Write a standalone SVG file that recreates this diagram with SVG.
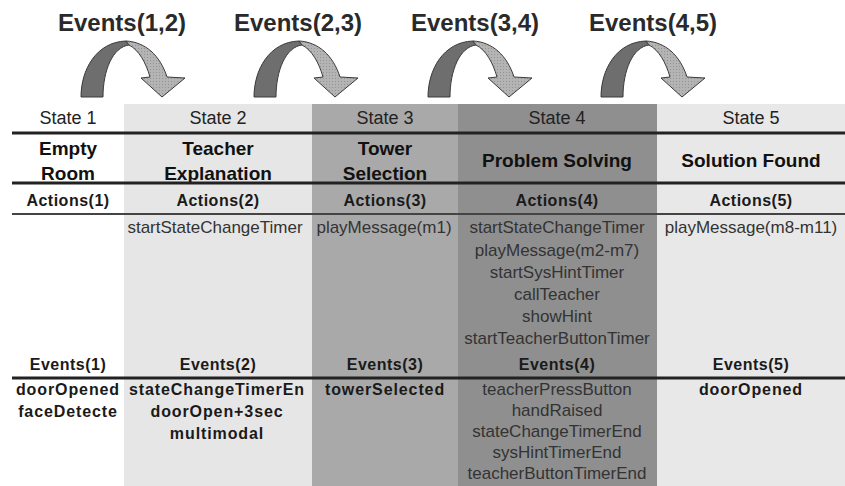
<svg xmlns="http://www.w3.org/2000/svg" width="845" height="486" viewBox="0 0 845 486">
<style>
.st{font-family:"Liberation Sans",Arial,sans-serif;font-size:18px;fill:#222;text-anchor:middle}
.ti{font-family:"Liberation Sans",Arial,sans-serif;font-size:19px;font-weight:bold;fill:#111;text-anchor:middle}
.hd{font-family:"Liberation Sans",Arial,sans-serif;font-size:16px;font-weight:bold;fill:#1a1a1a;text-anchor:middle;letter-spacing:0.5px}
.it{font-family:"Liberation Sans",Arial,sans-serif;font-size:17px;fill:#333;text-anchor:middle}
.ev{font-family:"Liberation Sans",Arial,sans-serif;font-size:16px;font-weight:bold;fill:#1a1a1a;text-anchor:middle;letter-spacing:0.9px}
.tr{font-family:"Liberation Sans",Arial,sans-serif;font-size:24px;font-weight:bold;fill:#2a2a2a;text-anchor:middle}
.ln{stroke:#222;stroke-width:3}
.ln2{stroke:#444;stroke-width:2}
.dk{fill:#6e6e6e;stroke:#3a3a3a;stroke-width:1}
.lt{fill:url(#dots);stroke:#3a3a3a;stroke-width:1}
</style>
<defs>
<pattern id="dots" width="3" height="3" patternUnits="userSpaceOnUse">
<rect width="3" height="3" fill="#b4b4b4"/>
<rect x="0" y="0" width="1" height="1" fill="#939393"/>
</pattern>
<g id="arc">
<path class="dk" d="M81,97 C81,70 96,42 126,41 L129,45 C113,47 103,70 103,97 Z"/>
<path class="lt" d="M126,41 C145,42 160,55 167,77 L185,78 L162,97 L141,78 L150,77 C146,63 139,50 129,45 Z"/>
</g>
</defs>
<rect width="845" height="486" fill="#fff"/>

<g id="state1">
<text class="st" x="68" y="124">State 1</text>
<text class="ti" x="68" y="155">Empty</text>
<text class="ti" x="68" y="180">Room</text>
<text class="hd" x="68" y="206">Actions(1)</text>
<text class="hd" x="68" y="370">Events(1)</text>
<text class="ev" x="68" y="395">doorOpened</text>
<text class="ev" x="68" y="417">faceDetecte</text>
</g>

<g id="state2">
<rect x="124" y="104" width="188" height="382" fill="#e6e6e6"/>
<text class="st" x="218" y="124">State 2</text>
<text class="ti" x="218" y="155">Teacher</text>
<text class="ti" x="218" y="180">Explanation</text>
<text class="hd" x="218" y="206">Actions(2)</text>
<text class="it" x="215" y="233">startStateChangeTimer</text>
<text class="hd" x="218" y="370">Events(2)</text>
<text class="ev" x="217" y="395">stateChangeTimerEn</text>
<text class="ev" x="217" y="417">doorOpen+3sec</text>
<text class="ev" x="217" y="439">multimodal</text>
</g>

<g id="state3">
<rect x="312" y="104" width="146" height="382" fill="#a9a9a9"/>
<text class="st" x="385" y="124">State 3</text>
<text class="ti" x="385" y="155">Tower</text>
<text class="ti" x="385" y="180">Selection</text>
<text class="hd" x="385" y="206">Actions(3)</text>
<text class="it" x="384" y="233">playMessage(m1)</text>
<text class="hd" x="385" y="370">Events(3)</text>
<text class="ev" x="385" y="395">towerSelected</text>
</g>

<g id="state4">
<rect x="458" y="104" width="199" height="382" fill="#8f8f8f"/>
<text class="st" x="557" y="124">State 4</text>
<text class="ti" x="557" y="167">Problem Solving</text>
<text class="hd" x="557" y="206">Actions(4)</text>
<text class="it" x="557" y="233">startStateChangeTimer</text>
<text class="it" x="557" y="256">playMessage(m2-m7)</text>
<text class="it" x="557" y="278">startSysHintTimer</text>
<text class="it" x="557" y="300">callTeacher</text>
<text class="it" x="557" y="322">showHint</text>
<text class="it" x="557" y="344">startTeacherButtonTimer</text>
<text class="hd" x="557" y="370">Events(4)</text>
<text class="it" x="557" y="395">teacherPressButton</text>
<text class="it" x="557" y="416">handRaised</text>
<text class="it" x="557" y="437">stateChangeTimerEnd</text>
<text class="it" x="557" y="458">sysHintTimerEnd</text>
<text class="it" x="557" y="479">teacherButtonTimerEnd</text>
</g>

<g id="state5">
<rect x="657" y="104" width="188" height="382" fill="#e8e8e8"/>
<text class="st" x="751" y="124">State 5</text>
<text class="ti" x="751" y="167">Solution Found</text>
<text class="hd" x="751" y="206">Actions(5)</text>
<text class="it" x="751" y="233">playMessage(m8-m11)</text>
<text class="hd" x="751" y="370">Events(5)</text>
<text class="ev" x="751" y="395">doorOpened</text>
</g>

<g id="rules">
<line class="ln" x1="12" y1="133" x2="845" y2="133"/>
<line class="ln" x1="12" y1="183" x2="845" y2="183"/>
<line class="ln2" x1="12" y1="214" x2="845" y2="214"/>
<line class="ln" x1="12" y1="378" x2="845" y2="378"/>
</g>

<g id="connectors">
<use href="#arc"/>
<use href="#arc" transform="translate(173,0)"/>
<use href="#arc" transform="translate(347,0)"/>
<use href="#arc" transform="translate(520,0)"/>
<text class="tr" x="122" y="31">Events(1,2)</text>
<text class="tr" x="298" y="31">Events(2,3)</text>
<text class="tr" x="475" y="31">Events(3,4)</text>
<text class="tr" x="653" y="31">Events(4,5)</text>
</g>
</svg>
